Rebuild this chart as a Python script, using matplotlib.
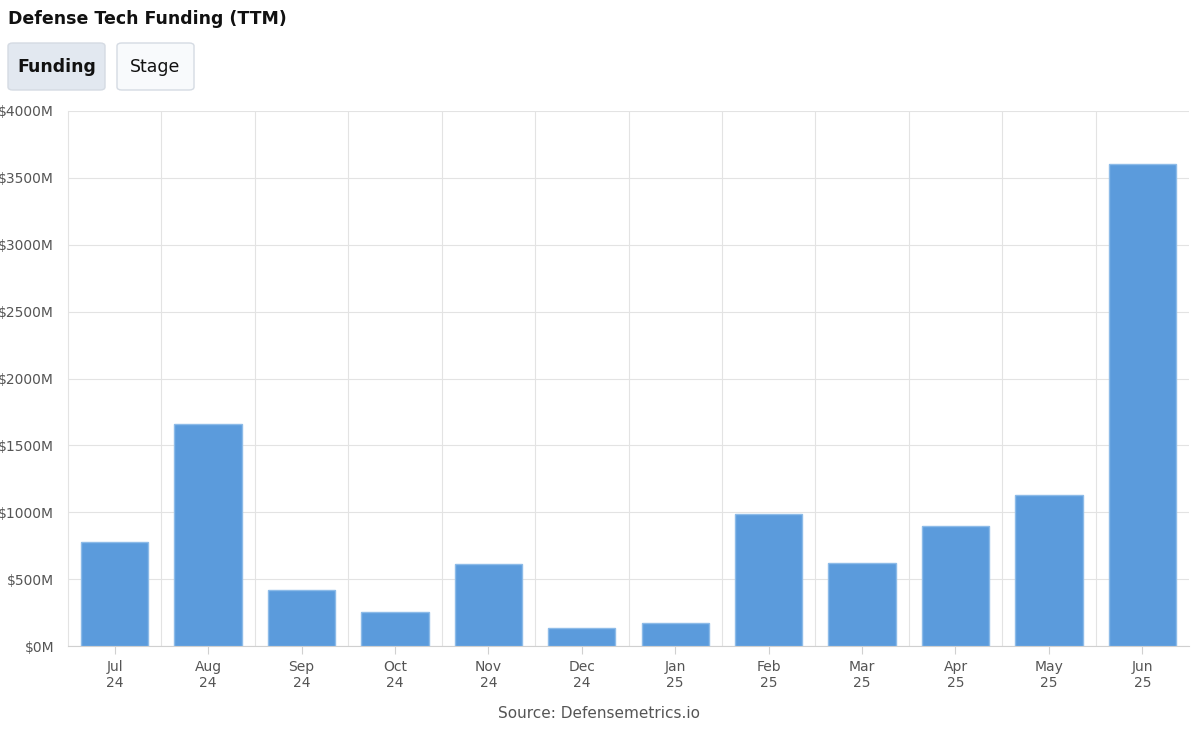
import matplotlib
matplotlib.use("Agg")
import matplotlib.pyplot as plt
from matplotlib.patches import FancyBboxPatch

months = ["Jul", "Aug", "Sep", "Oct", "Nov", "Dec", "Jan", "Feb", "Mar", "Apr", "May", "Jun"]
years = ["24", "24", "24", "24", "24", "24", "25", "25", "25", "25", "25", "25"]
funding = [780, 1660, 420, 255, 613, 135, 172, 987, 620, 897, 1129, 3604]
yticks = [0, 500, 1000, 1500, 2000, 2500, 3000, 3500, 4000]

W, H = 1200, 737
fig = plt.figure(figsize=(12, 7.37), dpi=100)
ax = fig.add_axes([68/W, 1-646/H, (1189-68)/W, (646-111)/H])

x = list(range(len(months)))
ax.bar(x, funding, width=0.72, color="#5b9bdc", edgecolor="#8dbbe8", linewidth=1, zorder=3)
ax.set_xlim(-0.5, len(months)-0.5)
ax.set_ylim(0, 4000)
ax.set_yticks(yticks)
ax.set_yticklabels([f"${v}M" for v in yticks], fontsize=10, color="#555555")
ax.set_xticks(x)
ax.set_xticklabels([f"{m}\n{y}" for m, y in zip(months, years)], fontsize=10, color="#555555")
ax.set_xticks([i+0.5 for i in x[:-1]], minor=True)
ax.grid(True, which="major", axis="y", color="#e3e3e3", lw=0.8, zorder=0)
ax.grid(True, which="minor", axis="x", color="#e3e3e3", lw=0.8, zorder=0)
ax.tick_params(axis="both", which="both", length=0)
ax.tick_params(axis="x", which="major", length=6, color="#d0d0d0", pad=4)
ax.tick_params(axis="y", pad=10)
for s in ["top", "right"]:
    ax.spines[s].set_visible(False)
ax.spines["left"].set_color("#e3e3e3")
ax.spines["bottom"].set_color("#d0d0d0")

fig.text(8/W, 1-19/H, "Defense Tech Funding (TTM)", fontsize=12.5, fontweight="bold", va="center", color="#111111")
b1 = FancyBboxPatch((8/W, 1-90/H), 97/W, 47/H, boxstyle="round,pad=0,rounding_size=0.004",
                    transform=fig.transFigure, facecolor="#e2e8f0", edgecolor="#d5dbe3", lw=1)
b2 = FancyBboxPatch((117/W, 1-90/H), 77/W, 47/H, boxstyle="round,pad=0,rounding_size=0.004",
                    transform=fig.transFigure, facecolor="#f8fafc", edgecolor="#d5dbe3", lw=1)
fig.patches.extend([b1, b2])
fig.text(56.5/W, 1-67/H, "Funding", fontsize=12.5, fontweight="bold", ha="center", va="center", color="#111111")
fig.text(155.5/W, 1-67/H, "Stage", fontsize=12.5, ha="center", va="center", color="#111111")
fig.text(599/W, 1-713/H, "Source: Defensemetrics.io", fontsize=11, ha="center", va="center", color="#555555")

fig.savefig("out.png", dpi=100)
